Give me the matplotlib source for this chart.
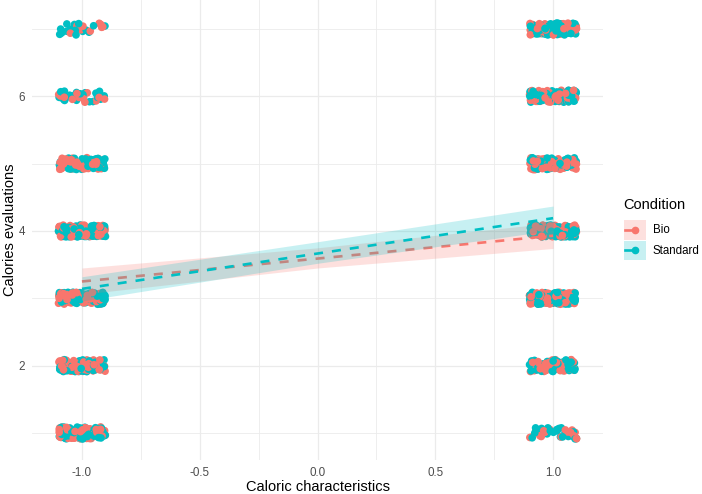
import numpy as np
import matplotlib
matplotlib.use("Agg")
import matplotlib.pyplot as plt
from matplotlib.patches import Patch, Rectangle
from matplotlib.lines import Line2D
from matplotlib.legend_handler import HandlerBase

plt.rcParams["font.family"] = ["Liberation Sans", "DejaVu Sans"]
plt.rcParams["lines.scale_dashes"] = False

# --- data ---
conditions = ["Bio", "Standard"]
colors = ["#F8766D", "#00BFC4"]
x_levels = [-1, 1]
y_levels = [1, 2, 3, 4, 5, 6, 7]

# number of responses per rating (y_levels) at each caloric level
bio_neg = [75, 80, 85, 100, 75, 14, 9]
bio_pos = [18, 55, 90, 95, 75, 70, 65]
std_neg = [75, 65, 95, 110, 65, 28, 15]
std_pos = [26, 45, 80, 110, 75, 75, 85]

# fitted lines and confidence bands
fit_x = [-1, 1]
bio_fit = [3.25, 3.93]
std_fit = [3.14, 4.19]
band_x = [-1, 0, 1]
bio_lo = [3.06, 3.45, 3.74]
bio_hi = [3.45, 3.75, 4.12]
std_lo = [2.96, 3.52, 4.01]
std_hi = [3.32, 3.84, 4.37]

JITTER_W = 0.1
JITTER_H = 0.09
DASH = (0, (6.5, 6.5))
BAND_ALPHA = 0.22


class KeyHandler(HandlerBase):
    # ggplot-like key: filled box, short line and a dot in the middle
    def create_artists(self, legend, orig_handle, xdescent, ydescent,
                       width, height, fontsize, trans):
        col = orig_handle.get_facecolor()
        x0, y0 = -xdescent, -ydescent
        rect = Rectangle((x0, y0), width, height, facecolor=col[:3],
                         alpha=BAND_ALPHA, edgecolor="none", transform=trans)
        ym = y0 + height / 2
        line = Line2D([x0 + 1, x0 + width / 2], [ym, ym], color=col[:3],
                      lw=1.9, transform=trans)
        dot = Line2D([x0 + width / 2], [ym], color=col[:3], marker="o",
                     markersize=4.5, linestyle="none", transform=trans)
        return [rect, line, dot]


def main():
    fig = plt.figure(figsize=(7.02, 4.94), dpi=100)
    ax = fig.add_axes([0.0456, 0.069, 0.8134, 0.931])

    # --- jittered points (jitter only offsets the drawn position) ---
    rng = np.random.default_rng(11)
    px, py, pc = [], [], []
    table = {(0, -1): bio_neg, (0, 1): bio_pos, (1, -1): std_neg, (1, 1): std_pos}
    for (ci, xv), cnts in table.items():
        for yv, n in zip(y_levels, cnts):
            px.extend(xv + rng.uniform(-JITTER_W, JITTER_W, n))
            py.extend(yv + rng.uniform(-JITTER_H, JITTER_H, n))
            pc.extend([colors[ci]] * n)
    order = rng.permutation(len(px))
    px = np.array(px)[order]
    py = np.array(py)[order]
    pc = np.array(pc)[order]
    ax.scatter(px, py, c=pc, s=30, linewidths=0, zorder=2)

    # --- smooth layers: ribbon then line, per group ---
    fits = [(bio_fit, bio_lo, bio_hi), (std_fit, std_lo, std_hi)]
    for (fit, lo, hi), col in zip(fits, colors):
        ax.fill_between(band_x, lo, hi, color=col, alpha=BAND_ALPHA,
                        linewidth=0, zorder=3)
        ax.plot(fit_x, fit, color=col, lw=1.9, linestyle=DASH, zorder=3)

    # --- axes styling (theme_minimal look) ---
    ax.set_xlim(-1.212, 1.212)
    ax.set_ylim(0.6, 7.43)
    ax.set_xticks([-1.0, -0.5, 0.0, 0.5, 1.0])
    ax.set_xticklabels(["-1.0", "-0.5", "0.0", "0.5", "1.0"])
    ax.set_yticks([2, 4, 6])
    ax.set_xticks([-0.75, -0.25, 0.25, 0.75], minor=True)
    ax.set_yticks([1, 3, 5, 7], minor=True)
    ax.grid(which="major", color="#EBEBEB", lw=0.9, zorder=0)
    ax.grid(which="minor", color="#EBEBEB", lw=0.6, zorder=0)
    ax.set_axisbelow(True)
    for s in ax.spines.values():
        s.set_visible(False)
    ax.tick_params(which="both", length=0)
    ax.tick_params(axis="both", labelsize=8.4, colors="#4D4D4D", pad=5)
    ax.set_xlabel("Caloric characteristics", fontsize=10.5, labelpad=1)
    ax.set_ylabel("Calories evaluations", fontsize=10.5, labelpad=1)

    # --- legend (title placed separately for ggplot spacing) ---
    fig.text(0.888, 0.585, "Condition", fontsize=10.5, ha="left", va="center")
    handles = [Patch(facecolor=c) for c in colors]
    fig.legend(handles, conditions, loc="upper left",
               bbox_to_anchor=(0.889, 0.555), frameon=False, fontsize=8.3,
               handlelength=1.88, handleheight=2.26, handletextpad=0.6,
               labelspacing=0.08, borderpad=0, borderaxespad=0,
               handler_map={Patch: KeyHandler()})

    fig.savefig("out.png", dpi=100)
    plt.close(fig)


if __name__ == "__main__":
    main()
